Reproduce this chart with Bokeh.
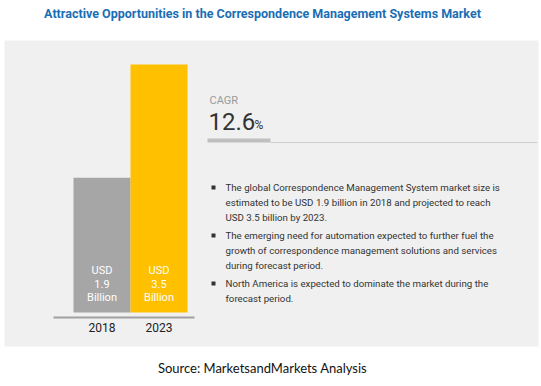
from bokeh.plotting import figure
from bokeh.models import Range1d, Label
from bokeh.embed import file_html
from bokeh.resources import INLINE

# ---- data ----
years = ["2018", "2023"]
market_size = [1.9, 3.5]          # USD billion
bar_colors = ["#A6A6A6", "#FFC000"]
value_labels = [["USD", "1.9", "Billion"], ["USD", "3.5", "Billion"]]
cagr_label = "CAGR"
cagr_value = "12.6"
title_text = "Attractive Opportunities in the Correspondence Management Systems Market"
source_text = "Source: MarketsandMarkets Analysis"
bullets = [
    ["The global Correspondence Management System market size is",
     "estimated to be USD 1.9 billion in 2018 and projected to reach",
     "USD 3.5 billion by 2023."],
    ["The emerging need for automation expected to further fuel the",
     "growth of correspondence management solutions and services",
     "during forecast period."],
    ["North America is expected to dominate the market during the",
     "forecast period."],
]

W, H = 541, 386
OX, OY = 0, 0   # page position of the figure's top-left corner
# layout helpers: page pixel -> data coordinates
X0, XS = 101.5, 57.0
Y0, YS = 312.0, 70.86
def px2x(rx):
    return (rx - X0) / XS
def px2y(ry):
    return (Y0 - ry) / YS

p = figure(width=W, height=H, output_backend="svg", toolbar_location=None,
           x_range=Range1d(px2x(OX), px2x(OX + W)), y_range=Range1d(px2y(OY + H), px2y(OY)),
           min_border=0)
p.axis.visible = False
p.grid.visible = False
p.outline_line_color = None
p.background_fill_color = "white"

# grey panel
p.quad(left=[px2x(4)], right=[px2x(538)], top=[px2y(40)], bottom=[px2y(346)],
       fill_color="#F0F0F0", line_color=None)

# bars
xs = list(range(len(years)))
p.vbar(x=xs, top=market_size, bottom=0, width=1.0, fill_color=bar_colors, line_color=None)

# baseline
p.segment(x0=[px2x(53)], y0=[px2y(317)], x1=[px2x(194)], y1=[px2y(317)],
          line_color="#A0A0A0", line_width=2)

def lab(x, y, text, size, color, font="Roboto", align="left", style="normal"):
    p.add_layout(Label(x=x, y=y, text=text, text_font=font, text_font_size=f"{size}px",
                       text_color=color, text_align=align, text_baseline="middle",
                       text_font_style=style))

# bar value labels and year labels
for i, lines in enumerate(value_labels):
    for j, t in enumerate(lines):
        lab(xs[i], px2y(270 + 13.5 * j), t, 11, "white", align="center")
    lab(xs[i], px2y(327), years[i], 12, "#222222", align="center")

# title
lab(px2x(262), px2y(13), title_text, 12.5, "#1A6EB5", align="center", style="bold")

# CAGR block
lab(px2x(209), px2y(100), cagr_label, 11, "#9A9A9A")
lab(px2x(208), px2y(121), cagr_value, 24, "#333333")
lab(px2x(254), px2y(124), "%", 12, "#333333")
p.segment(x0=[px2x(270)], y0=[px2y(142)], x1=[px2x(537)], y1=[px2y(142)],
          line_color="#D0D0D0", line_width=1)
p.segment(x0=[px2x(207)], y0=[px2y(140)], x1=[px2x(270)], y1=[px2y(140)],
          line_color="#BFBFBF", line_width=4)

# bullets
starts = [187, 235, 283]
for b, lines in enumerate(bullets):
    y0 = starts[b]
    p.scatter(x=[px2x(213)], y=[px2y(y0)], marker="square", size=4,
              fill_color="#333333", line_color=None)
    for j, t in enumerate(lines):
        lab(px2x(225), px2y(y0 + 15 * j), t, 9.7, "#333333")

# source
lab(px2x(262), px2y(367), source_text, 13, "#111111", font="Lato", align="center")

open("out.html", "w").write(file_html(p, INLINE))
